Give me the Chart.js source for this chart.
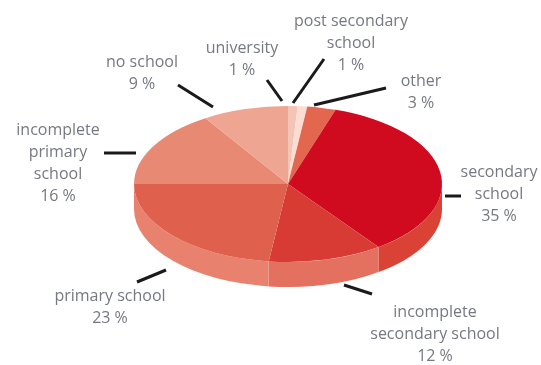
<!DOCTYPE html>
<html>
<head>
<meta charset="utf-8">
<script src="https://cdn.jsdelivr.net/npm/chart.js@4"></script>
<style>
  html, body { margin: 0; padding: 0; background: #fff; }
  #wrap { width: 541px; height: 365px; position: relative; }
</style>
</head>
<body>
<div id="wrap"><canvas id="pie"></canvas></div>
<script>
// education level shares, clockwise from 12 o'clock
const categories = ['university', 'post secondary school', 'other', 'secondary school',
  'incomplete secondary school', 'primary school', 'incomplete primary school', 'no school'];
const shares = [1, 1, 3, 35, 12, 23, 16, 9];
const topColors = ['#F4C4B6', '#FADCD2', '#E3674F', '#D00A1F', '#D83B33', '#E0604E', '#E88A73', '#EEA692'];
const sideColors = ['#F6CFC3', '#FBE3DA', '#E8806C', '#DA4236', '#E4705F', '#E8826E', '#EE9E88', '#F2B6A5'];

// label text lines + where each block sits, and the leader line next to it
const labelLines = [
  ['university', '1 %'],
  ['post secondary', 'school', '1 %'],
  ['other', '3 %'],
  ['secondary', 'school', '35 %'],
  ['incomplete', 'secondary school', '12 %'],
  ['primary school', '23 %'],
  ['incomplete', 'primary', 'school', '16 %'],
  ['no school', '9 %']
];
const labelPos = [[242, 48], [351, 21], [421, 81], [499, 172], [435, 312], [110, 296], [58, 130], [142, 62]];
const leaders = [
  [[267, 80], [282, 101]],
  [[324, 59], [293, 103]],
  [[386, 88], [314, 105]],
  [[445, 196], [461, 196]],
  [[344, 285], [372, 294]],
  [[137, 282], [166, 270]],
  [[104, 153], [136, 153]],
  [[178, 85], [213, 107]]
];

const TILT = 78 / 154;   // vertical squash of the disc
const DEPTH = 25;        // thickness of the disc
const CENTER_Y = 184;

const tiltedPie = {
  id: 'tiltedPie',
  beforeDatasetsDraw(chart) {
    const ctx = chart.ctx;
    const arcs = chart.getDatasetMeta(0).data;
    const cx = arcs[0].x, cy = arcs[0].y, r = arcs[0].outerRadius;
    const ry = r * TILT;

    // side walls: only the front half (0..PI) is visible
    arcs.forEach((arc, i) => {
      const a1 = Math.max(arc.startAngle, 0);
      const a2 = Math.min(arc.endAngle, Math.PI);
      if (a2 <= a1) return;
      ctx.beginPath();
      ctx.ellipse(cx, CENTER_Y, r, ry, 0, a1, a2);
      ctx.lineTo(cx + r * Math.cos(a2), CENTER_Y + DEPTH + ry * Math.sin(a2));
      ctx.ellipse(cx, CENTER_Y + DEPTH, r, ry, 0, a2, a1, true);
      ctx.closePath();
      ctx.fillStyle = sideColors[i];
      ctx.fill();
    });

    // top face: the library's own arcs, squashed
    ctx.save();
    ctx.translate(cx, CENTER_Y);
    ctx.scale(1, TILT);
    ctx.translate(-cx, -cy);
    arcs.forEach(arc => arc.draw(ctx));
    ctx.restore();

    // leader lines and labels
    ctx.save();
    ctx.strokeStyle = '#1a1a1a';
    ctx.lineWidth = 3;
    leaders.forEach(([p, q]) => {
      ctx.beginPath();
      ctx.moveTo(p[0], p[1]);
      ctx.lineTo(q[0], q[1]);
      ctx.stroke();
    });
    ctx.fillStyle = '#767982';
    ctx.font = '16px "Open Sans"';
    ctx.textAlign = 'center';
    ctx.textBaseline = 'middle';
    labelLines.forEach((lines, i) => {
      const [x, y] = labelPos[i];
      lines.forEach((t, j) => ctx.fillText(t, x, y + j * 22));
    });
    ctx.restore();
    return false;
  }
};

new Chart(document.getElementById('pie').getContext('2d'), {
  type: 'pie',
  data: {
    labels: categories,
    datasets: [{
      data: shares,
      backgroundColor: topColors,
      borderWidth: 0
    }]
  },
  options: {
    responsive: true,
    maintainAspectRatio: false,
    animation: false,
    layout: { padding: { left: 134, right: 99, top: 0, bottom: 0 } },
    plugins: {
      legend: { display: false },
      tooltip: { enabled: false }
    }
  },
  plugins: [tiltedPie]
});
</script>
</body>
</html>
